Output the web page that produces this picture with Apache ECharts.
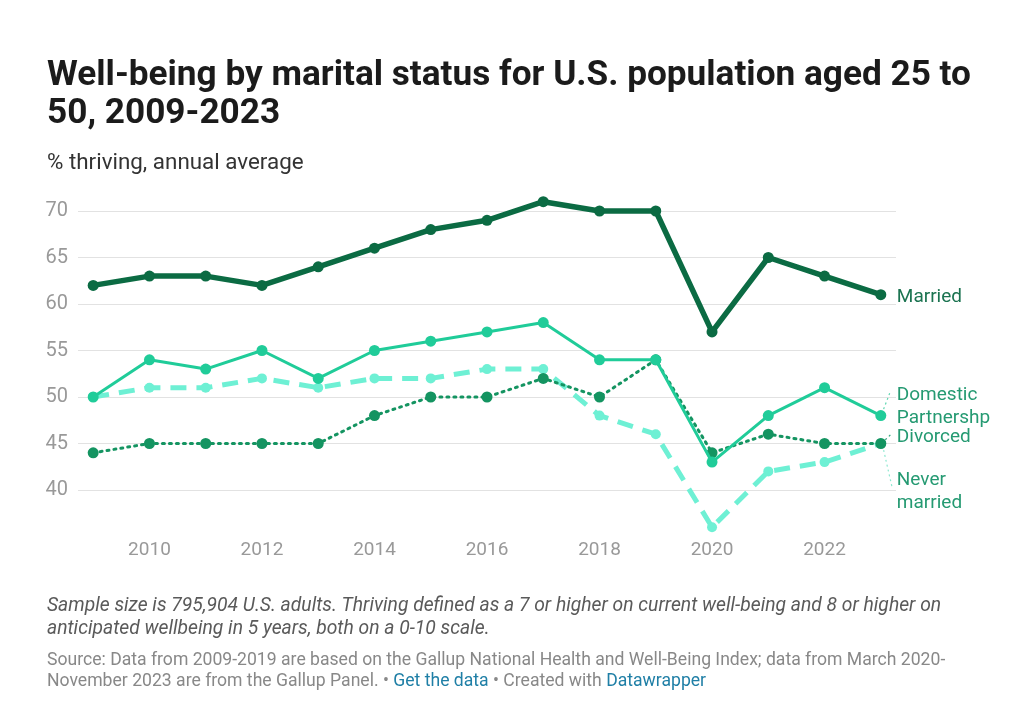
<!DOCTYPE html>
<html>
<head>
<meta charset="utf-8">
<script src="https://cdn.jsdelivr.net/npm/echarts@6/dist/echarts.min.js"></script>
<style>
html,body{margin:0;padding:0;background:#fff;}
#chart{width:1024px;height:715px;}
</style>
</head>
<body>
<div id="chart"></div>
<script>
const years = [2009,2010,2011,2012,2013,2014,2015,2016,2017,2018,2019,2020,2021,2022,2023];
const married = [62,63,63,62,64,66,68,69,71,70,70,57,65,63,61];
const domestic = [50,54,53,55,52,55,56,57,58,54,54,43,48,51,48];
const neverMarried = [50,51,51,52,51,52,52,53,53,48,46,36,42,43,45];
const divorced = [44,45,45,45,45,48,50,50,52,50,54,44,46,45,45];
const xTickLabels = [2010,2012,2014,2016,2018,2020,2022];
const yTicks = [40,45,50,55,60,65,70];

const pairs = arr => years.map((y,i)=>[y,arr[i]]);
const FONT = 'Roboto';
const chart = echarts.init(document.getElementById('chart'));

function leader(from, to, color){
  return {
    silent: true, symbol: ['none','none'], label:{show:false},
    lineStyle:{color: color, type:[2,3], width:1.2},
    animation:false,
    data:[[{coord:from},{coord:to}]]
  };
}

chart.setOption({
  animation:false,
  textStyle:{fontFamily:FONT},
  title:[
    {text:'Well-being by marital status for U.S. population aged 25 to\n50, 2009-2023',
     left:42, top:52,
     textStyle:{fontFamily:FONT,fontSize:35.2,fontWeight:'bold',color:'#1b1b1b',lineHeight:38}},
    {text:'% thriving, annual average', left:42, top:145,
     textStyle:{fontFamily:FONT,fontSize:22.4,fontWeight:'normal',color:'#333',lineHeight:26}},
    {text:'Sample size is 795,904 U.S. adults. Thriving defined as a 7 or higher on current well-being and 8 or higher on\nanticipated wellbeing in 5 years, both on a 0-10 scale.',
     left:42, top:590,
     textStyle:{fontFamily:FONT,fontSize:19.3,fontStyle:'italic',fontWeight:'normal',color:'#5a5a5a',lineHeight:23}},
    {text:'{s|Source: Data from 2009-2019 are based on the Gallup National Health and Well-Being Index; data from March 2020-}\n{s|November 2023 are from the Gallup Panel. • }{l|Get the data}{s| • Created with }{l|Datawrapper}',
     left:42, top:645,
     textStyle:{fontFamily:FONT,fontSize:17.6,fontWeight:'normal',color:'#888',lineHeight:21,
       rich:{s:{fontFamily:FONT,fontSize:17.6,color:'#888',lineHeight:21},
             l:{fontFamily:FONT,fontSize:17.6,color:'#1f7fa6',lineHeight:21}}}}
  ],
  grid:{left:78, right:128, top:211, bottom:225, containLabel:false},
  xAxis:{
    type:'value', min:2008.73, max:2023.27,
    axisLine:{show:false}, axisTick:{show:false}, splitLine:{show:false},
    axisLabel:{customValues:xTickLabels, margin:51, fontSize:19, color:'#999', fontFamily:FONT, formatter:v=>String(v)}
  },
  yAxis:{
    type:'value', min:40, max:70, interval:5,
    axisLine:{show:false}, axisTick:{show:false},
    axisLabel:{fontSize:20, color:'#999', margin:10, fontFamily:FONT},
    splitLine:{lineStyle:{color:'#e2e2e2', width:1}}
  },
  series:[
    {name:'Never\nmarried', type:'line', data:pairs(neverMarried), clip:false, z:2,
     symbol:'circle', symbolSize:10, itemStyle:{color:'#6ef0d4'},
     lineStyle:{color:'#6ef0d4', width:5, type:[16,10]},
     endLabel:{show:true, formatter:'{a}', distance:16, offset:[0,48], fontSize:19, lineHeight:23, color:'#259a72', fontFamily:FONT},
     markLine:leader([2023.05,44.3],[2023.2,40.3],'#8ee8d0')},
    {name:'Divorced', type:'line', data:pairs(divorced), clip:false, z:3,
     symbol:'circle', symbolSize:11, itemStyle:{color:'#149461'},
     lineStyle:{color:'#149461', width:3, type:[2,5], cap:'round'},
     endLabel:{show:true, formatter:'{a}', distance:16, offset:[0,-6], fontSize:19, lineHeight:23, color:'#259a72', fontFamily:FONT},
     markLine:leader([2023.08,45.4],[2023.2,46.1],'#2aa57a')},
    {name:'Domestic\nPartnershp', type:'line', data:pairs(domestic), clip:false, z:4,
     symbol:'circle', symbolSize:11, itemStyle:{color:'#20cc99'},
     lineStyle:{color:'#20cc99', width:3},
     endLabel:{show:true, formatter:'{a}', distance:16, offset:[0,-9], fontSize:19, lineHeight:23, color:'#259a72', fontFamily:FONT},
     markLine:leader([2023.05,48.7],[2023.17,50.6],'#5fd6b0')},
    {name:'Married', type:'line', data:pairs(married), clip:false, z:5,
     symbol:'circle', symbolSize:11, itemStyle:{color:'#0b6b43'},
     lineStyle:{color:'#0b6b43', width:5.5},
     endLabel:{show:true, formatter:'{a}', distance:16, offset:[0,3], fontSize:19, lineHeight:23, color:'#1b7350', fontFamily:FONT}}
  ]
});
</script>
</body>
</html>
